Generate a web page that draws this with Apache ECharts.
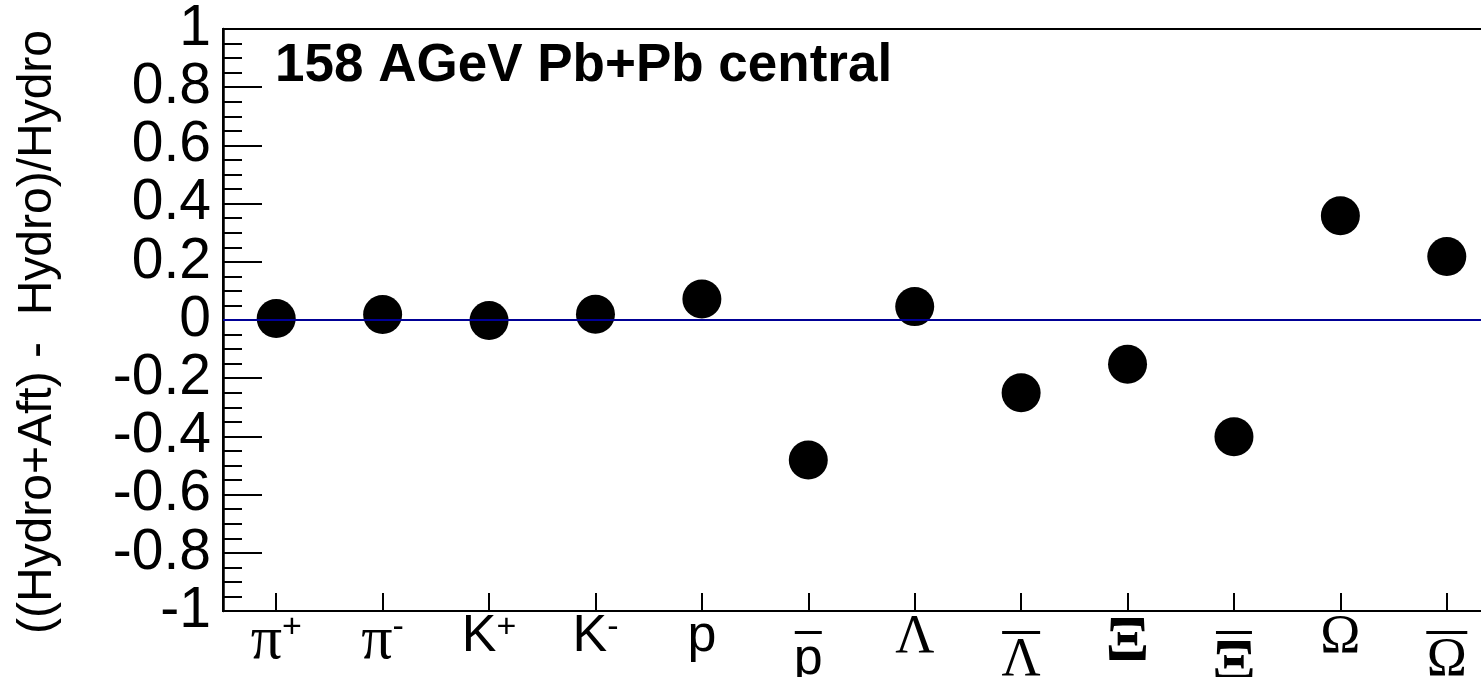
<!DOCTYPE html>
<html>
<head>
<meta charset="utf-8">
<title>158 AGeV Pb+Pb central</title>
<script src="https://cdn.jsdelivr.net/npm/echarts@6/dist/echarts.min.js"></script>
<style>
  html, body { margin: 0; padding: 0; background: #fff; }
  #chart { width: 1481px; height: 677px; }
</style>
</head>
<body>
<div id="chart"></div>
<script>
// Relative change of hadron yields when afterburner is added to hydro
const particles = ['\u03C0', '\u03C0', 'K', 'K', 'p', 'p', '\u039B', '\u039B', '\u039E', '\u039E', '\u03A9', '\u03A9'];
const charges = ['+', '-', '+', '-', '', '', '', '', '', '', '', ''];
const isAnti = [false, false, false, false, false, true, false, true, false, true, false, true];
const ratioValues = [0.005, 0.019, -0.002, 0.02, 0.072, -0.481, 0.046, -0.25, -0.152, -0.401, 0.358, 0.218];
const yTickValues = [-1, -0.8, -0.6, -0.4, -0.2, 0, 0.2, 0.4, 0.6, 0.8, 1];

const SANS = '"Liberation Sans", Arial, Helvetica, sans-serif';
const SERIF = '"Liberation Serif", "Times New Roman", serif';
const GREEK_FONT = {
  '\u03C0': { size: 62, weight: 'normal' },
  '\u039B': { size: 54, weight: 'normal' },
  '\u039E': { size: 64, weight: 'bold' },
  '\u03A9': { size: 54, weight: 'normal' }
};

// per-label vertical tuning of the rich text (main line height, superscript line height, overline width)
const labelLayout = [
  { h: 52, hs: 35 },
  { h: 36, hs: 5 },
  { h: 68, hs: 36 },
  { h: 52, hs: 2 },
  { h: 42 },
  { h: 34, bar: 27 },
  { h: 60 },
  { h: 42, bar: 38 },
  { h: 58 },
  { h: 42, bar: 36 },
  { h: 58 },
  { h: 42, bar: 41 }
];

const indices = particles.map((_, i) => i);

const rich = { gap: { width: 1, height: 20, lineHeight: 20 } };
indices.forEach(i => {
  const g = GREEK_FONT[particles[i]];
  const lay = labelLayout[i];
  rich['m' + i] = {
    fontFamily: g ? SERIF : SANS,
    fontSize: g ? g.size : 52,
    fontWeight: g ? g.weight : 'normal',
    lineHeight: lay.h,
    verticalAlign: 'top',
    color: '#000'
  };
  rich['s' + i] = {
    fontFamily: SANS,
    fontSize: 34,
    lineHeight: lay.hs || 30,
    verticalAlign: 'top',
    color: '#000'
  };
  rich['b' + i] = {
    width: lay.bar || 30,
    height: 3,
    lineHeight: 3,
    backgroundColor: '#000'
  };
});

function particleLabel(v) {
  const i = Math.round(v);
  if (i < 0 || i >= particles.length) return '';
  let s = '{m' + i + '|' + particles[i] + '}';
  if (charges[i]) s += '{s' + i + '|' + charges[i] + '}';
  if (isAnti[i]) s = '{gap|}\n{b' + i + '|}\n' + s;
  return s;
}

const chart = echarts.init(document.getElementById('chart'), null, { renderer: 'canvas' });

chart.setOption({
  backgroundColor: '#fff',
  animation: false,
  grid: {
    left: 223, top: 29, right: -19, bottom: 66,
    show: true,
    borderColor: '#000',
    borderWidth: 2,
    containLabel: false,
    outerBoundsMode: 'none'
  },
  title: {
    text: '158 AGeV Pb+Pb central',
    left: 275,
    top: 38,
    padding: 0,
    textStyle: {
      fontFamily: SANS,
      fontWeight: 'bold',
      fontSize: 53,
      lineHeight: 56,
      color: '#000'
    }
  },
  graphic: [{
    type: 'text',
    x: 38,
    y: 332,
    rotation: Math.PI / 2,
    style: {
      text: '((Hydro+Aft) -  Hydro)/Hydro',
      fontFamily: SANS,
      fontSize: 48,
      fill: '#000',
      align: 'center',
      verticalAlign: 'middle'
    }
  }],
  xAxis: {
    type: 'value',
    min: -0.5,
    max: 11.5,
    splitLine: { show: false },
    axisLine: { show: true, onZero: false, lineStyle: { color: '#000', width: 2 } },
    axisTick: {
      show: true,
      inside: true,
      length: 18,
      customValues: indices,
      lineStyle: { color: '#000', width: 2 }
    },
    axisLabel: {
      show: true,
      margin: 0,
      customValues: indices,
      formatter: particleLabel,
      rich: rich,
      color: '#000'
    }
  },
  yAxis: {
    type: 'value',
    min: -1,
    max: 1,
    interval: 0.2,
    splitLine: { show: false },
    axisLine: { show: true, onZero: false, lineStyle: { color: '#000', width: 2.5 } },
    axisTick: {
      show: true,
      inside: true,
      length: 39,
      customValues: yTickValues,
      lineStyle: { color: '#000', width: 2 }
    },
    minorTick: {
      show: true,
      splitNumber: 4,
      length: 19,
      lineStyle: { color: '#000', width: 2 }
    },
    axisLabel: {
      show: true,
      margin: 12,
      customValues: yTickValues,
      fontFamily: SANS,
      fontSize: 57,
      color: '#000',
      formatter: v => String(Math.round(v * 10) / 10)
    }
  },
  series: [
    {
      type: 'line',
      data: [],
      z: 1,
      markLine: {
        silent: true,
        symbol: ['none', 'none'],
        label: { show: false },
        lineStyle: { color: '#000096', width: 2, type: 'solid', opacity: 1 },
        data: [{ yAxis: 0 }]
      }
    },
    {
      type: 'scatter',
      z: 3,
      symbol: 'circle',
      symbolSize: 39,
      itemStyle: { color: '#000', opacity: 1 },
      emphasis: { disabled: true },
      data: indices.map(i => [i, ratioValues[i]])
    }
  ]
});
</script>
</body>
</html>
